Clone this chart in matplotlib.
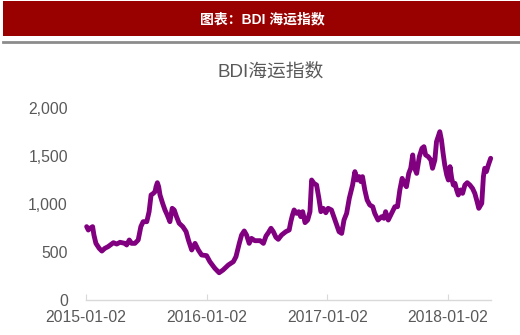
import pandas as pd
import matplotlib
matplotlib.use("Agg")
import matplotlib.pyplot as plt
import matplotlib.dates as mdates
from matplotlib.patches import Rectangle
from matplotlib.lines import Line2D
from matplotlib.ticker import FuncFormatter

plt.rcParams['font.family'] = ['Liberation Sans', 'Noto Sans CJK SC', 'DejaVu Sans']

# BDI readings (approx.)
dates = [
    "2015-01-04", "2015-01-09", "2015-01-14", "2015-01-22", "2015-01-26", "2015-02-01",
    "2015-02-11", "2015-02-19", "2015-02-28", "2015-03-10", "2015-03-26", "2015-04-05",
    "2015-04-15", "2015-04-30", "2015-05-05", "2015-05-13", "2015-05-20", "2015-05-30",
    "2015-06-09", "2015-06-17", "2015-06-24", "2015-07-05", "2015-07-12", "2015-07-18",
    "2015-07-25", "2015-07-30", "2015-08-02", "2015-08-06", "2015-08-10", "2015-08-14",
    "2015-08-22", "2015-08-29", "2015-09-05", "2015-09-13", "2015-09-20", "2015-09-26",
    "2015-10-03", "2015-10-11", "2015-10-22", "2015-11-01", "2015-11-08", "2015-11-18",
    "2015-11-28", "2015-12-08", "2015-12-18", "2016-01-02", "2016-01-12", "2016-01-27",
    "2016-02-09", "2016-02-21", "2016-03-08", "2016-03-23", "2016-03-31", "2016-04-10",
    "2016-04-17", "2016-04-25", "2016-05-02", "2016-05-10", "2016-05-17", "2016-05-27",
    "2016-06-12", "2016-06-22", "2016-06-30", "2016-07-07", "2016-07-15", "2016-07-22",
    "2016-07-30", "2016-08-06", "2016-08-16", "2016-08-29", "2016-09-08", "2016-09-13",
    "2016-09-18", "2016-09-23", "2016-09-30", "2016-10-07", "2016-10-13", "2016-10-19",
    "2016-10-26", "2016-11-03", "2016-11-10", "2016-11-15", "2016-11-22", "2016-11-30",
    "2016-12-07", "2016-12-13", "2016-12-20", "2016-12-28", "2017-01-04", "2017-01-14",
    "2017-01-21", "2017-01-30", "2017-02-06", "2017-02-14", "2017-02-21", "2017-03-01",
    "2017-03-09", "2017-03-19", "2017-03-26", "2017-04-02", "2017-04-08", "2017-04-13",
    "2017-04-18", "2017-04-25", "2017-05-02", "2017-05-10", "2017-05-19", "2017-05-25",
    "2017-06-04", "2017-06-15", "2017-06-22", "2017-06-27", "2017-07-05", "2017-07-15",
    "2017-07-25", "2017-08-02", "2017-08-09", "2017-08-16", "2017-08-22", "2017-08-29",
    "2017-09-05", "2017-09-11", "2017-09-17", "2017-09-21", "2017-09-29", "2017-10-07",
    "2017-10-15", "2017-10-21", "2017-10-26", "2017-11-03", "2017-11-11", "2017-11-16",
    "2017-11-23", "2017-11-28", "2017-12-03", "2017-12-08", "2017-12-13", "2017-12-18",
    "2017-12-23", "2017-12-29", "2018-01-03", "2018-01-08", "2018-01-13", "2018-01-18",
    "2018-01-23", "2018-01-28", "2018-02-02", "2018-02-09", "2018-02-15", "2018-02-22",
    "2018-03-01", "2018-03-09", "2018-03-17", "2018-03-24", "2018-03-31", "2018-04-05",
    "2018-04-14", "2018-04-19", "2018-04-23", "2018-04-28", "2018-05-04", "2018-05-11",
]
bdi = [
    764, 729, 747, 764, 677, 590,
    538, 510, 538, 556, 597, 583,
    601, 590, 573, 625, 590, 590,
    625, 764, 816, 816, 920, 1094,
    1111, 1128, 1180, 1222, 1180, 1094,
    1007, 938, 885, 816, 955, 938,
    868, 799, 764, 712, 625, 521,
    590, 521, 469, 462, 399, 330,
    284, 313, 365, 399, 451, 590,
    677, 719, 677, 590, 642, 618,
    618, 590, 667, 701, 747, 712,
    653, 632, 677, 712, 729, 816,
    885, 938, 903, 920, 868, 920,
    806, 833, 920, 1250, 1215, 1198,
    1059, 920, 955, 909, 955, 938,
    868, 781, 712, 694, 833, 903,
    1059, 1198, 1337, 1250, 1285, 1233,
    1285, 1146, 1042, 990, 972, 903,
    833, 868, 851, 920, 833, 903,
    972, 972, 1146, 1267, 1215, 1180,
    1319, 1372, 1511, 1389, 1319, 1493,
    1580, 1597, 1511, 1493, 1458, 1372,
    1458, 1649, 1701, 1753, 1667, 1528,
    1406, 1302, 1250, 1389, 1267, 1198,
    1215, 1146, 1094, 1146, 1111, 1198,
    1222, 1198, 1163, 1111, 1024, 955,
    1007, 1285, 1372, 1337, 1406, 1476,
]
tick_dates = ["2015-01-02", "2016-01-02", "2017-01-02", "2018-01-02"]
y_ticks = [0, 500, 1000, 1500, 2000]

banner_title = "图表：BDI 海运指数"
chart_title = "BDI海运指数"

s = pd.Series(bdi, index=pd.to_datetime(dates))

fig = plt.figure(figsize=(5.2, 3.35), dpi=100)
fig.patch.set_facecolor("white")

# red banner + grey rule under it
fig.patches.append(Rectangle((3 / 520, 1 - 36 / 335), 517 / 520, 35 / 335,
                             transform=fig.transFigure, facecolor="#990000",
                             edgecolor="none", zorder=0))
fig.lines.append(Line2D([3 / 520, 1], [1 - 42 / 335] * 2, transform=fig.transFigure,
                        color="#8c8c8c", linewidth=2))
fig.text(0.505, 1 - 19 / 335, banner_title, color="white", fontsize=10,
         fontweight="bold", ha="center", va="center")
fig.text(0.52, 1 - 72 / 335, chart_title, color="#595959", fontsize=13.5,
         ha="center", va="center")

ax = fig.add_axes([86 / 520, 1 - 300 / 335, 405 / 520, 192 / 335])
ax.plot(s.index, s.values, color="#800080", linewidth=3.5, solid_capstyle="round",
        solid_joinstyle="round", clip_on=False)

ax.set_ylim(0, 2000)
ax.set_yticks(y_ticks)
ax.yaxis.set_major_formatter(FuncFormatter(lambda v, p: f"{int(v):,}"))
ax.set_xlim(pd.Timestamp(tick_dates[0]), pd.Timestamp("2018-05-12"))
ax.set_xticks(pd.to_datetime(tick_dates))
ax.xaxis.set_major_formatter(mdates.DateFormatter("%Y-%m-%d"))

for sp in ["top", "right", "left"]:
    ax.spines[sp].set_visible(False)
ax.spines["bottom"].set_color("#d9d9d9")
ax.spines["bottom"].set_linewidth(1)
ax.tick_params(axis="x", direction="in", length=4, color="#d9d9d9",
               labelsize=11.3, labelcolor="#595959", pad=7)
ax.tick_params(axis="y", length=0, labelsize=11.3, labelcolor="#595959", pad=13)

fig.savefig("out.png", dpi=100)
